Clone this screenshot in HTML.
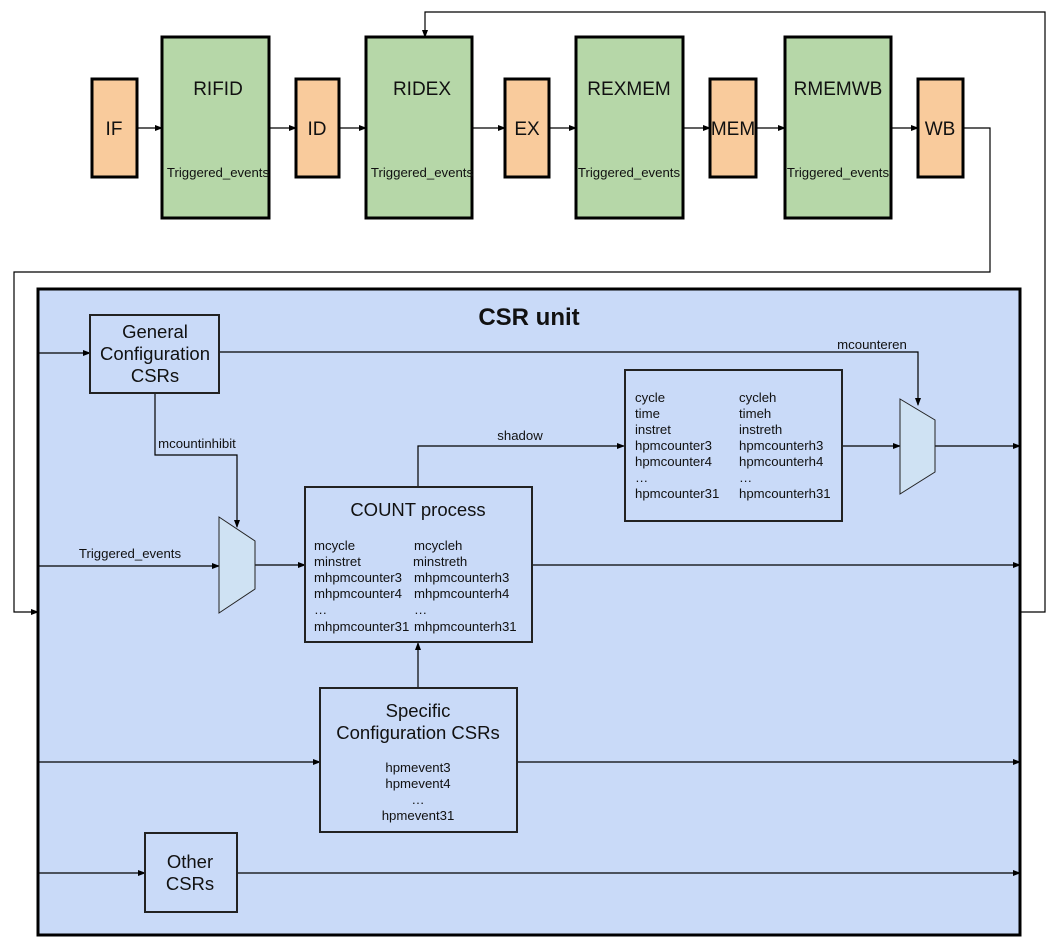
<!DOCTYPE html>
<html><head><style>body{margin:0;background:#fff}svg{display:block}text{font-family:"Liberation Sans",sans-serif;fill:#111}</style></head>
<body>
<svg width="1058" height="947" viewBox="0 0 1058 947" xmlns="http://www.w3.org/2000/svg">
<defs><marker id="a" markerWidth="8" markerHeight="6" refX="7" refY="3" orient="auto" markerUnits="userSpaceOnUse"><path d="M0,0 L8,3 L0,6z" fill="#000"/></marker></defs>
<g stroke="#000" stroke-width="1.2" fill="none">
<polyline points="963,128 990,128 990,272 14,272 14,612 38,612" marker-end="url(#a)"/>
<polyline points="1020,612 1045,612 1045,12 425,12 425,37" marker-end="url(#a)"/>
<line x1="137" y1="128" x2="162" y2="128" marker-end="url(#a)"/>
<line x1="269" y1="128" x2="296" y2="128" marker-end="url(#a)"/>
<line x1="339" y1="128" x2="366" y2="128" marker-end="url(#a)"/>
<line x1="472" y1="128" x2="505" y2="128" marker-end="url(#a)"/>
<line x1="549" y1="128" x2="576" y2="128" marker-end="url(#a)"/>
<line x1="683" y1="128" x2="710" y2="128" marker-end="url(#a)"/>
<line x1="756" y1="128" x2="785" y2="128" marker-end="url(#a)"/>
<line x1="891" y1="128" x2="918" y2="128" marker-end="url(#a)"/>
</g>
<g stroke="#000" stroke-width="3">
<rect x="92" y="79" width="45" height="98" fill="#f9cb9c"/>
<rect x="296" y="79" width="43" height="98" fill="#f9cb9c"/>
<rect x="505" y="79" width="44" height="98" fill="#f9cb9c"/>
<rect x="710" y="79" width="46" height="98" fill="#f9cb9c"/>
<rect x="918" y="79" width="45" height="98" fill="#f9cb9c"/>
<rect x="162" y="37" width="107" height="181" fill="#b6d7a8"/>
<rect x="366" y="37" width="106" height="181" fill="#b6d7a8"/>
<rect x="576" y="37" width="107" height="181" fill="#b6d7a8"/>
<rect x="785" y="37" width="106" height="181" fill="#b6d7a8"/>
</g>
<g font-size="19" text-anchor="middle">
<text x="114" y="135">IF</text><text x="317" y="135">ID</text><text x="527" y="135">EX</text><text x="733" y="135">MEM</text><text x="940" y="135">WB</text>
<text x="218" y="95">RIFID</text><text x="422" y="95">RIDEX</text><text x="629" y="95">REXMEM</text><text x="838" y="95">RMEMWB</text>
</g>
<g font-size="13.2" text-anchor="middle">
<text x="218" y="177">Triggered_events</text><text x="422" y="177">Triggered_events</text><text x="629" y="177">Triggered_events</text><text x="838" y="177">Triggered_events</text>
</g>
<rect x="38" y="289" width="982" height="646" fill="#c9daf8" stroke="#000" stroke-width="3"/>
<text x="529" y="325" font-size="24" font-weight="bold" text-anchor="middle">CSR unit</text>
<g stroke="#000" stroke-width="1.2" fill="none">
<line x1="38" y1="353" x2="90" y2="353" marker-end="url(#a)"/>
<polyline points="219,352 918,352 918,405" marker-end="url(#a)"/>
<polyline points="155,393 155,455 237,455 237,527" marker-end="url(#a)"/>
<line x1="38" y1="566" x2="219" y2="566" marker-end="url(#a)"/>
<line x1="255" y1="565" x2="305" y2="565" marker-end="url(#a)"/>
<polyline points="418,487 418,446 624,446" marker-end="url(#a)"/>
<line x1="532" y1="565" x2="1020" y2="565" marker-end="url(#a)"/>
<line x1="842" y1="446" x2="900" y2="446" marker-end="url(#a)"/>
<line x1="935" y1="446" x2="1020" y2="446" marker-end="url(#a)"/>
<line x1="418" y1="688" x2="418" y2="643" marker-end="url(#a)"/>
<line x1="38" y1="762" x2="320" y2="762" marker-end="url(#a)"/>
<line x1="517" y1="762" x2="1020" y2="762" marker-end="url(#a)"/>
<line x1="38" y1="873" x2="145" y2="873" marker-end="url(#a)"/>
<line x1="237" y1="873" x2="1020" y2="873" marker-end="url(#a)"/>
</g>
<g stroke="#222" stroke-width="1" fill="#cfe2f3">
<polygon points="219,517 255,541 255,589 219,613"/>
<polygon points="900,399 935,420 935,472 900,494"/>
</g>
<g stroke="#222" stroke-width="2" fill="#c9daf8">
<rect x="90" y="315" width="129" height="78"/>
<rect x="305" y="487" width="227" height="155"/>
<rect x="625" y="370" width="217" height="151"/>
<rect x="320" y="688" width="197" height="144"/>
<rect x="145" y="833" width="92" height="79"/>
</g>
<g font-size="18.5" text-anchor="middle">
<text x="155" y="338">General</text><text x="155" y="360">Configuration</text><text x="155" y="382">CSRs</text>
<text x="418" y="516">COUNT process</text>
<text x="418" y="717">Specific</text><text x="418" y="739">Configuration CSRs</text>
<text x="190" y="868">Other</text><text x="190" y="890">CSRs</text>
</g>
<g font-size="13.2">
<text x="872" y="349" text-anchor="middle">mcounteren</text>
<text x="197" y="448" text-anchor="middle">mcountinhibit</text>
<text x="130" y="558" text-anchor="middle">Triggered_events</text>
<text x="520" y="440" text-anchor="middle">shadow</text>
<text x="314" y="550">mcycle</text><text x="414" y="550">mcycleh</text>
<text x="314" y="566">minstret</text><text x="413" y="566">minstreth</text>
<text x="314" y="582">mhpmcounter3</text><text x="414" y="582">mhpmcounterh3</text>
<text x="314" y="598">mhpmcounter4</text><text x="414" y="598">mhpmcounterh4</text>
<text x="314" y="614">…</text><text x="414" y="614">…</text>
<text x="314" y="631">mhpmcounter31</text><text x="414" y="631">mhpmcounterh31</text>
<text x="635" y="402">cycle</text><text x="739" y="402">cycleh</text>
<text x="635" y="418">time</text><text x="739" y="418">timeh</text>
<text x="635" y="434">instret</text><text x="739" y="434">instreth</text>
<text x="635" y="450">hpmcounter3</text><text x="739" y="450">hpmcounterh3</text>
<text x="635" y="466">hpmcounter4</text><text x="739" y="466">hpmcounterh4</text>
<text x="635" y="482">…</text><text x="739" y="482">…</text>
<text x="635" y="498">hpmcounter31</text><text x="739" y="498">hpmcounterh31</text>
<g text-anchor="middle"><text x="418" y="772">hpmevent3</text><text x="418" y="788">hpmevent4</text><text x="418" y="804">…</text><text x="418" y="820">hpmevent31</text></g>
</g>
</svg>
</body></html>
